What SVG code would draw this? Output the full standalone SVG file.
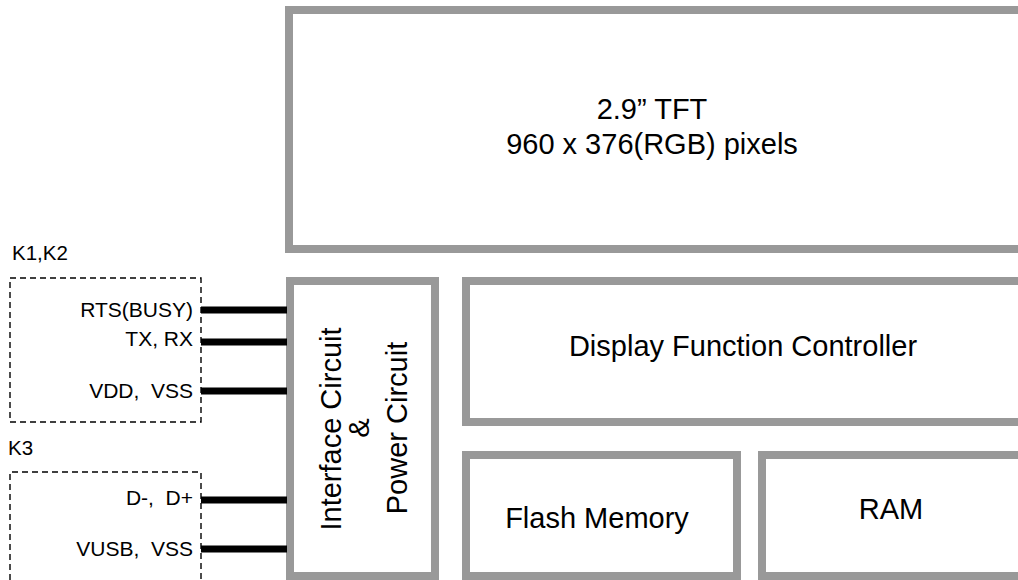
<svg xmlns="http://www.w3.org/2000/svg" width="1018" height="580" viewBox="0 0 1018 580">
  <style>
    .blk { fill: #ffffff; stroke: #999999; stroke-width: 8; }
    .dash { fill: none; stroke: #000000; stroke-width: 1.4; stroke-dasharray: 6 4; }
    .wire { stroke: #000000; stroke-width: 7; fill: none; }
    .big { font-family: "Liberation Sans", Arial, sans-serif; font-size: 29px; fill: #000000; text-anchor: middle; }
    .lbl { font-family: "Liberation Sans", Arial, sans-serif; font-size: 21px; fill: #000000; text-anchor: end; white-space: pre; }
    .grp { font-family: "Liberation Sans", Arial, sans-serif; font-size: 20.5px; fill: #000000; }
  </style>
  <rect width="1018" height="580" fill="#ffffff"/>

  <g id="tft">
    <rect class="blk" x="289" y="10" width="760" height="239"/>
    <text class="big" x="652" y="119">2.9” TFT</text>
    <text class="big" x="652" y="154">960 x 376(RGB) pixels</text>
  </g>

  <g id="interface">
    <rect class="blk" x="290" y="281" width="145" height="295"/>
    <text class="big" transform="translate(341,429) rotate(-90)">Interface Circuit</text>
    <text class="big" transform="translate(369,428) rotate(-90)">&amp;</text>
    <text class="big" transform="translate(407,428) rotate(-90)">Power Circuit</text>
  </g>

  <g id="controller">
    <rect class="blk" x="466" y="281" width="600" height="141"/>
    <text class="big" x="743" y="356">Display Function Controller</text>
  </g>

  <g id="flash">
    <rect class="blk" x="466" y="455" width="271" height="121"/>
    <text class="big" x="597" y="528">Flash Memory</text>
  </g>

  <g id="ram">
    <rect class="blk" x="762" y="455" width="300" height="121"/>
    <text class="big" x="891" y="519">RAM</text>
  </g>

  <g id="k1k2">
    <text class="grp" x="12" y="260">K1,K2</text>
    <rect class="dash" x="10" y="278" width="191" height="144"/>
    <text class="lbl" x="193" y="317">RTS(BUSY)</text>
    <text class="lbl" x="193" y="346">TX, RX</text>
    <text class="lbl" x="193" y="398" xml:space="preserve">VDD,  VSS</text>
  </g>

  <g id="k3">
    <text class="grp" x="8" y="455">K3</text>
    <path class="dash" d="M10,590 V472 H201 V590"/>
    <text class="lbl" x="193" y="505" xml:space="preserve">D-,  D+</text>
    <text class="lbl" x="193" y="556" xml:space="preserve">VUSB,  VSS</text>
  </g>

  <g id="connectors">
    <line class="wire" x1="201" y1="310" x2="287" y2="310"/>
    <line class="wire" x1="201" y1="342" x2="287" y2="342"/>
    <line class="wire" x1="201" y1="391" x2="287" y2="391"/>
    <line class="wire" x1="201" y1="500" x2="287" y2="500"/>
    <line class="wire" x1="201" y1="549" x2="287" y2="549"/>
  </g>
</svg>
